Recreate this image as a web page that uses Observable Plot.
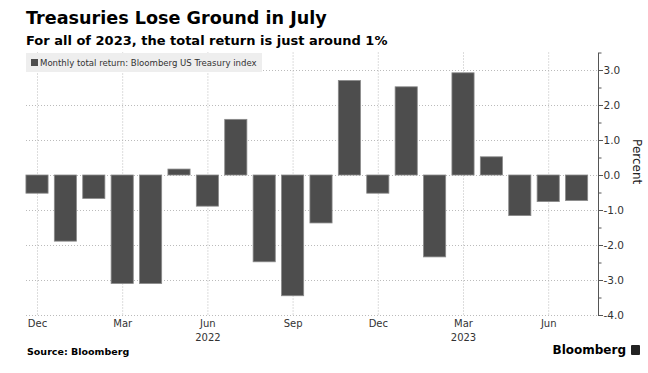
<!DOCTYPE html>
<html>
<head>
<meta charset="utf-8">
<script src="https://cdn.jsdelivr.net/npm/d3@7"></script>
<script src="https://cdn.jsdelivr.net/npm/@observablehq/plot@0.6"></script>
<style>
  html, body { margin: 0; padding: 0; background: #fff; }
  #wrap { position: relative; width: 648px; height: 373px; overflow: hidden; font-family: "DejaVu Sans", sans-serif; }
  #title { position: absolute; left: 26px; top: 8px; font-size: 17.6px; font-weight: bold; color: #000; white-space: nowrap; }
  #subtitle { position: absolute; left: 26px; top: 33px; font-size: 13px; font-weight: bold; color: #000; white-space: nowrap; }
  #legend { position: absolute; left: 26px; top: 53px; width: 236px; height: 19px; background: #eeeeee; font-size: 9.5px; color: #333; line-height: 19px; white-space: nowrap; font-family: "DejaVu Sans Condensed", "DejaVu Sans", sans-serif; }
  #legend .sw { display: inline-block; width: 7px; height: 7px; background: #4d4d4d; margin: 0 2px 0 5px; vertical-align: 0px; }
  #source { position: absolute; left: 27px; top: 346px; font-size: 9.5px; font-weight: bold; color: #000; }
  #brand { position: absolute; right: 8px; top: 343px; font-size: 12px; font-weight: bold; color: #000; white-space: nowrap; }
  #brand .logo { display: inline-block; width: 9px; height: 10px; background: #222; border-radius: 1px; margin-left: 5px; vertical-align: -1px; }
  #chart { position: absolute; left: 0; top: 0; }
</style>
</head>
<body>
<div id="wrap">
  <div id="chart"></div>
  <div id="title">Treasuries Lose Ground in July</div>
  <div id="subtitle">For all of 2023, the total return is just around 1%</div>
  <div id="legend"><span class="sw"></span>Monthly total return: Bloomberg US Treasury index</div>
  <div id="source">Source: Bloomberg</div>
  <div id="brand">Bloomberg<span class="logo"></span></div>
</div>
<script>
const months = ["2021-12","2022-01","2022-02","2022-03","2022-04","2022-05","2022-06","2022-07","2022-08","2022-09","2022-10","2022-11","2022-12","2023-01","2023-02","2023-03","2023-04","2023-05","2023-06","2023-07"];
const returns = [-0.52,-1.89,-0.67,-3.10,-3.10,0.17,-0.89,1.59,-2.48,-3.45,-1.37,2.70,-0.52,2.52,-2.34,2.92,0.52,-1.16,-0.76,-0.73];
const monthTicks = ["2021-12","2022-03","2022-06","2022-09","2022-12","2023-03","2023-06"];
const monthTickLabels = ["Dec","Mar","Jun","Sep","Dec","Mar","Jun"];
const yearTicks = ["2022-06","2023-03"];
const yearTickLabels = ["2022","2023"];
const yTicks = [-4,-3,-2,-1,0,1,2,3];
const yMinorTicks = [-3.5,-2.5,-1.5,-0.5,0.5,1.5,2.5,3.5];

const data = months.map((m, i) => ({month: m, value: returns[i]}));

const chart = Plot.plot({
  width: 648,
  height: 373,
  marginTop: 52.5,
  marginBottom: 58,
  marginLeft: 26,
  marginRight: 50,
  style: {fontFamily: "DejaVu Sans, sans-serif", background: "transparent", color: "#333"},
  x: {type: "band", domain: months, range: [22.8, 590.8], paddingInner: 0.22, paddingOuter: 0.11, round: false},
  y: {domain: [-4, 3.5]},
  marks: [
    Plot.gridY(yTicks, {stroke: "#bbb", strokeOpacity: 1, strokeDasharray: "1,2"}),
    Plot.gridX(monthTicks, {stroke: "#bbb", strokeOpacity: 1, strokeDasharray: "1,2"}),
    Plot.barY(data, {x: "month", y: "value", fill: "#4d4d4d", stroke: "#8a8a8a", strokeWidth: 0.8}),
    Plot.axisX(monthTicks, {tickSize: 0, tickPadding: 4, fontSize: 10, tickFormat: d => monthTickLabels[monthTicks.indexOf(d)], label: null, fill: "#333"}),
    Plot.axisX(yearTicks, {tickSize: 0, tickPadding: 18, fontSize: 10, tickFormat: d => yearTickLabels[yearTicks.indexOf(d)], label: null, fill: "#333"}),
    Plot.frame({anchor: "right", stroke: "#555"}),
    Plot.axisY(yTicks, {anchor: "right", tickSize: 4, tickPadding: 1, fontSize: 10.5, tickFormat: d => d.toFixed(1), label: null, stroke: "#555", fill: "#333"}),
    Plot.axisY(yMinorTicks, {anchor: "right", tickSize: 2.5, tickFormat: () => "", label: null, stroke: "#555"}),
    Plot.text(["Percent"], {frameAnchor: "right", rotate: 90, dx: 38, fontSize: 12, fill: "#222"})
  ]
});
document.getElementById("chart").appendChild(chart);
</script>
</body>
</html>
